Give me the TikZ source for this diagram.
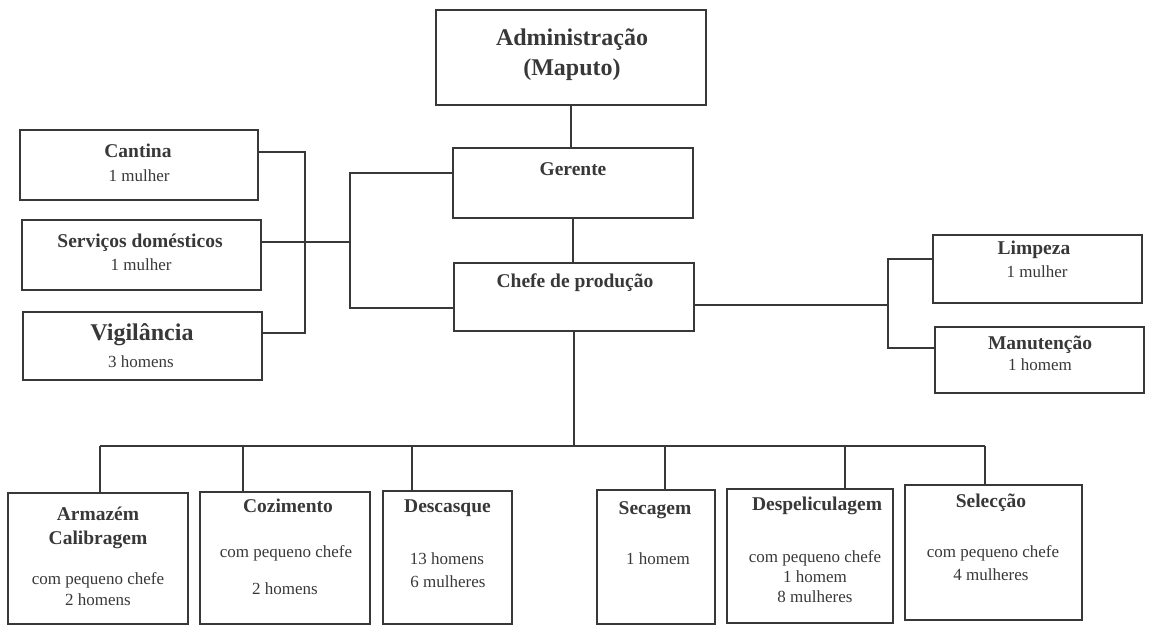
\documentclass[tikz,border=0pt]{standalone}
\usepackage{fontspec}
\setmainfont{Liberation Serif}
\begin{document}
\begin{tikzpicture}[x=1pt,y=-1pt,
  box/.style={draw=black!78, line width=1.5pt, inner sep=0pt},
  conn/.style={draw=black!78, line width=1.5pt},
  txtbase/.style={inner sep=0pt, text=black!78, text height=0.7em, text depth=0.22em},
  hd/.style={txtbase, font=\fontsize{19.5}{22}\selectfont\bfseries},
  bd/.style={txtbase, font=\fontsize{17}{20}\selectfont},
  big/.style={txtbase, font=\fontsize{24}{28}\selectfont\bfseries}]
\useasboundingbox (0,0) rectangle (1167,628);

% boxes
\node[box, minimum width=270pt, minimum height=95pt] (adm) at (571,57.5) {};
\node[box, minimum width=240pt, minimum height=70pt] (ger) at (573,183) {};
\node[box, minimum width=240pt, minimum height=68pt] (chef) at (574,297) {};
\node[box, minimum width=238pt, minimum height=70pt] (cant) at (139,165) {};
\node[box, minimum width=239pt, minimum height=70pt] (serv) at (141.5,255) {};
\node[box, minimum width=239pt, minimum height=68pt] (vig) at (142.5,346) {};
\node[box, minimum width=209pt, minimum height=68pt] (limp) at (1037.5,269) {};
\node[box, minimum width=209pt, minimum height=66pt] (manu) at (1039.5,360) {};
\node[box, minimum width=180pt, minimum height=131pt] (b1) at (98,558.5) {};
\node[box, minimum width=170pt, minimum height=132pt] (b2) at (285,558) {};
\node[box, minimum width=129pt, minimum height=133pt] (b3) at (447.5,557.5) {};
\node[box, minimum width=118pt, minimum height=134pt] (b4) at (656,557) {};
\node[box, minimum width=166pt, minimum height=134pt] (b5) at (810,556) {};
\node[box, minimum width=177pt, minimum height=135pt] (b6) at (993.5,552.5) {};

% texts
\node[big] (adm1) at (572,43) {Administração};
\node[big] (adm2) at (572,73) {(Maputo)};
\node[hd] (ger1) at (573,173) {Gerente};
\node[hd] (chef1) at (575,285) {Chefe de produção};
\node[hd] (cant1) at (138,155) {Cantina};
\node[bd] (cant2) at (139,179) {1 mulher};
\node[hd] (serv1) at (140,245) {Serviços domésticos};
\node[bd] (serv2) at (141,268) {1 mulher};
\node[big] (vig1) at (142,338) {Vigilância};
\node[bd] (vig2) at (141,365) {3 homens};
\node[hd] (limp1) at (1034,252) {Limpeza};
\node[bd] (limp2) at (1037,275) {1 mulher};
\node[hd] (manu1) at (1040,347) {Manutenção};
\node[bd] (manu2) at (1040,368) {1 homem};
\node[hd] (b1a) at (98,518) {Armazém};
\node[hd] (b1b) at (98,542) {Calibragem};
\node[bd] (b1c) at (98,582) {com pequeno chefe};
\node[bd] (b1d) at (98,603) {2 homens};
\node[hd] (b2a) at (288,510) {Cozimento};
\node[bd] (b2b) at (286,555) {com pequeno chefe};
\node[bd] (b2c) at (285,592) {2 homens};
\node[hd] (b3a) at (447.5,510) {Descasque};
\node[bd] (b3b) at (447,562) {13 homens};
\node[bd] (b3c) at (448,585) {6 mulheres};
\node[hd] (b4a) at (655,512) {Secagem};
\node[bd] (b4b) at (658,562) {1 homem};
\node[hd] (b5a) at (817,508) {Despeliculagem};
\node[bd] (b5b) at (815,560) {com pequeno chefe};
\node[bd] (b5c) at (815,580) {1 homem};
\node[bd] (b5d) at (815,600) {8 mulheres};
\node[hd] (b6a) at (991,505) {Selecção};
\node[bd] (b6b) at (993,555) {com pequeno chefe};
\node[bd] (b6c) at (991,578) {4 mulheres};

% vertical trunk
\draw[conn] (adm.south) -- (adm.south |- ger.north);
\draw[conn] (ger.south) -- (ger.south |- chef.north);

% left side
\coordinate (lbt) at (305,152);
\coordinate (lbm) at (305,242);
\coordinate (lbb) at (305,333);
\coordinate (lvt) at (350,173);
\coordinate (lvb) at (350,308);
\draw[conn] (cant.east |- lbt) -- (lbt) -- (lbb) -- (vig.east |- lbb);
\draw[conn] (serv.east |- lbm) -- (lbm) -- (lbm -| lvt);
\draw[conn] (ger.west |- lvt) -- (lvt) -- (lvb) -- (chef.west |- lvb);

% right side
\coordinate (rbt) at (888,259);
\coordinate (rbm) at (888,305);
\coordinate (rbb) at (888,348);
\draw[conn] (chef.east |- rbm) -- (rbm);
\draw[conn] (limp.west |- rbt) -- (rbt) -- (rbb) -- (manu.west |- rbb);

% bottom bus
\coordinate (d1) at (100,446);
\coordinate (d2) at (243,446);
\coordinate (d3) at (412,446);
\coordinate (d4) at (665,446);
\coordinate (d5) at (845,446);
\coordinate (d6) at (985,446);
\draw[conn] (d1) -- (d6);
\draw[conn] (chef.south) -- (chef.south |- d1);
\draw[conn] (d1) -- (d1 |- b1.north);
\draw[conn] (d2) -- (d2 |- b2.north);
\draw[conn] (d3) -- (d3 |- b3.north);
\draw[conn] (d4) -- (d4 |- b4.north);
\draw[conn] (d5) -- (d5 |- b5.north);
\draw[conn] (d6) -- (d6 |- b6.north);
\end{tikzpicture}
\end{document}
